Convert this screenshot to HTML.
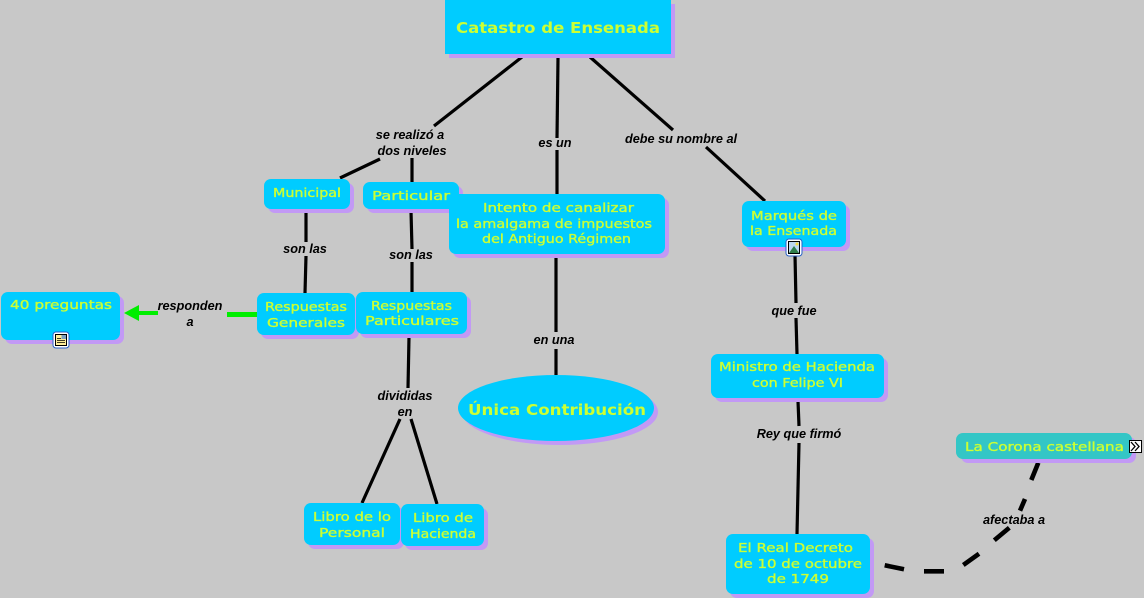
<!DOCTYPE html>
<html><head><meta charset="utf-8"><style>
html,body{margin:0;padding:0;background:#c8c8c8;width:1144px;height:598px;overflow:hidden}
svg{display:block}
.n{font-family:"DejaVu Sans","Liberation Sans",sans-serif;font-size:12.5px;fill:#ccff33;font-weight:400;stroke:#ccff33;stroke-width:.35}
.b{font-weight:700;font-size:15px;stroke:none}
.l{font-family:"Liberation Sans",sans-serif;font-size:12.7px;font-weight:700;font-style:italic;fill:#000;text-anchor:middle}
.c{stroke:#000;stroke-width:3.200;fill:none}
.d{stroke:#000;stroke-width:4.600;fill:none}
</style></head><body>
<svg width="1144" height="598" viewBox="0 0 1144 598" xmlns="http://www.w3.org/2000/svg">
<rect width="1144" height="598" fill="#c8c8c8"/>
<!-- connectors -->
<g class="c">
<path d="M522 57L434 126"/><path d="M380 159L340 178"/><path d="M412 158V182"/>
<path d="M558 58L557 138"/><path d="M557 150L557 194"/>
<path d="M590 57L673 130"/><path d="M706 147L765 201"/>
<path d="M306 212V242"/><path d="M306 256L305 293"/>
<path d="M411 211L412 249"/><path d="M412 262V292"/>
<path d="M409 337L408 388"/><path d="M400 419L362 503"/><path d="M411 419L437 504"/>
<path d="M556 257L556 332"/><path d="M556 349V375"/>
<path d="M795 255L796 303"/><path d="M796 318L797 354"/>
<path d="M798 401L799 426"/><path d="M799 443L797 534"/>
</g>
<g class="d">
<path d="M884.700 565.300L904 569.300"/>
<path d="M924 571.300H944"/>
<path d="M963.300 565L979 553.700"/>
<path d="M994.300 540.300L1009.300 527.700"/>
<path d="M1020 510.700L1025 499"/>
<path d="M1031.300 480L1038.300 462.700"/>
</g>
<!-- green arrow -->
<path d="M227 314.500H257" stroke="#00ee00" stroke-width="5"/>
<path d="M158 313H138" stroke="#00ee00" stroke-width="4"/>
<path d="M124 313L139 305V321Z" fill="#00ee00"/>
<!-- shadows -->
<g fill="#c299f5">
<rect x="449" y="4" width="226" height="54"/>
<rect x="268" y="183" width="86" height="30" rx="7"/>
<rect x="367" y="186" width="96" height="27" rx="7"/>
<rect x="453" y="198" width="216" height="60" rx="7"/>
<rect x="746" y="205" width="104" height="46" rx="7"/>
<rect x="261" y="297" width="98" height="42" rx="7"/>
<rect x="360" y="296" width="111" height="42" rx="7"/>
<rect x="5" y="296" width="119" height="48" rx="7"/>
<rect x="715" y="358" width="173" height="44" rx="7"/>
<ellipse cx="560" cy="412" rx="98" ry="33"/>
<rect x="308" y="507" width="96" height="42" rx="7"/>
<rect x="405" y="508" width="83" height="42" rx="7"/>
<rect x="730" y="538" width="144" height="60" rx="7"/>
<rect x="961" y="437" width="175" height="26" rx="7"/>
</g>
<!-- nodes -->
<g fill="#00ccff">
<rect x="445" y="0" width="226" height="54"/>
<rect x="264" y="179" width="86" height="30" rx="7"/>
<rect x="363" y="182" width="96" height="27" rx="7"/>
<rect x="449" y="194" width="216" height="60" rx="7"/>
<rect x="742" y="201" width="104" height="46" rx="7"/>
<rect x="257" y="293" width="98" height="42" rx="7"/>
<rect x="356" y="292" width="111" height="42" rx="7"/>
<rect x="1" y="292" width="119" height="48" rx="7"/>
<rect x="711" y="354" width="173" height="44" rx="7"/>
<ellipse cx="556" cy="408" rx="98" ry="33"/>
<rect x="304" y="503" width="96" height="42" rx="7"/>
<rect x="401" y="504" width="83" height="42" rx="7"/>
<rect x="726" y="534" width="144" height="60" rx="7"/>
<rect x="956" y="433" width="176" height="26" rx="7" fill="#33c6c6"/>
</g>
<!-- node text -->
<g>
<text class="n b" x="456" y="33" textLength="204" lengthAdjust="spacingAndGlyphs">Catastro de Ensenada</text>
<text class="n" x="273" y="197" textLength="68" lengthAdjust="spacingAndGlyphs">Municipal</text>
<text class="n" x="372" y="200" textLength="78" lengthAdjust="spacingAndGlyphs">Particular</text>
<text class="n" x="483" y="212" textLength="151" lengthAdjust="spacingAndGlyphs">Intento de canalizar</text>
<text class="n" x="456" y="228" textLength="196" lengthAdjust="spacingAndGlyphs">la amalgama de impuestos</text>
<text class="n" x="482" y="243" textLength="149" lengthAdjust="spacingAndGlyphs">del Antiguo Régimen</text>
<text class="n" x="751" y="220" textLength="86" lengthAdjust="spacingAndGlyphs">Marqués de</text>
<text class="n" x="750" y="235" textLength="87" lengthAdjust="spacingAndGlyphs">la Ensenada</text>
<text class="n" x="265" y="311" textLength="82" lengthAdjust="spacingAndGlyphs">Respuestas</text>
<text class="n" x="267" y="327" textLength="78" lengthAdjust="spacingAndGlyphs">Generales</text>
<text class="n" x="371" y="310" textLength="81" lengthAdjust="spacingAndGlyphs">Respuestas</text>
<text class="n" x="365" y="325" textLength="94" lengthAdjust="spacingAndGlyphs">Particulares</text>
<text class="n" x="10" y="309" textLength="102" lengthAdjust="spacingAndGlyphs">40 preguntas</text>
<text class="n" x="719" y="371" textLength="156" lengthAdjust="spacingAndGlyphs">Ministro de Hacienda</text>
<text class="n" x="752" y="387" textLength="91" lengthAdjust="spacingAndGlyphs">con Felipe VI</text>
<text class="n b" x="468" y="415" textLength="178" lengthAdjust="spacingAndGlyphs">Única Contribución</text>
<text class="n" x="313" y="521" textLength="78" lengthAdjust="spacingAndGlyphs">Libro de lo</text>
<text class="n" x="319" y="537" textLength="66" lengthAdjust="spacingAndGlyphs">Personal</text>
<text class="n" x="413" y="522" textLength="60" lengthAdjust="spacingAndGlyphs">Libro de</text>
<text class="n" x="410" y="538" textLength="66" lengthAdjust="spacingAndGlyphs">Hacienda</text>
<text class="n" x="738" y="552" textLength="115" lengthAdjust="spacingAndGlyphs">El Real Decreto</text>
<text class="n" x="734" y="568" textLength="128" lengthAdjust="spacingAndGlyphs">de 10 de octubre</text>
<text class="n" x="767" y="583" textLength="62" lengthAdjust="spacingAndGlyphs">de 1749</text>
<text class="n" x="965" y="451" textLength="159" lengthAdjust="spacingAndGlyphs">La Corona castellana</text>
</g>
<!-- link labels -->
<g>
<text class="l" x="410" y="139">se realizó a</text>
<text class="l" x="412" y="155">dos niveles</text>
<text class="l" x="555" y="147">es un</text>
<text class="l" x="681" y="143">debe su nombre al</text>
<text class="l" x="305" y="253">son las</text>
<text class="l" x="411" y="259">son las</text>
<text class="l" x="190" y="310">responden</text>
<text class="l" x="190" y="326">a</text>
<text class="l" x="405" y="400">divididas</text>
<text class="l" x="405" y="416">en</text>
<text class="l" x="554" y="344">en una</text>
<text class="l" x="794" y="315">que fue</text>
<text class="l" x="799" y="438">Rey que firmó</text>
<text class="l" x="1014" y="524">afectaba a</text>
</g>
<!-- icons -->
<g>
<rect x="53" y="332" width="16" height="16" rx="3" fill="#fff" stroke="#2a62c8"/>
<rect x="55.500" y="334.500" width="11" height="11" fill="#ffee99" stroke="#000" stroke-width="1"/>
<path d="M57 338.500H61M57 340.500H65M57 342.500H65" stroke="#000" stroke-width=".8"/>
<rect x="61.500" y="335" width="4.500" height="4" fill="#7f9fc0"/>
<rect x="786" y="239" width="16" height="17" rx="3" fill="#fff" stroke="#2a62c8"/>
<rect x="788.500" y="241.500" width="11" height="12" fill="#bcd6ee" stroke="#000" stroke-width="1"/>
<path d="M789 253L794 246L799 253Z" fill="#2f7d4a"/>
<circle cx="797" cy="244" r="1.500" fill="#f5d840"/>
<rect x="1129.500" y="440.500" width="12" height="12" fill="#fff" stroke="#000"/>
<path d="M1131 442L1135 446.500L1131 451M1135 442L1139 446.500L1135 451" fill="none" stroke="#000" stroke-width="1.300"/>
</g>
</svg>
</body></html>
